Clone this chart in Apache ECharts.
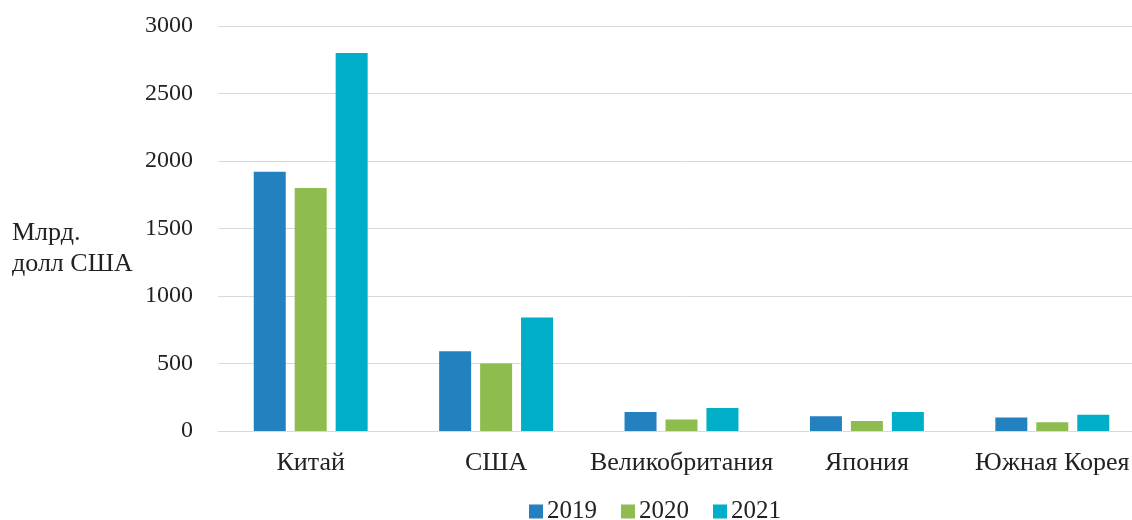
<!DOCTYPE html>
<html>
<head>
<meta charset="utf-8">
<script src="https://cdn.jsdelivr.net/npm/echarts@6/dist/echarts.min.js"></script>
<style>
  html, body { margin: 0; padding: 0; background: #fff; overflow: hidden; }
  #chart { width: 1145px; height: 520px; }
</style>
</head>
<body>
<div id="chart"></div>
<script>
// страны
const countries = ['Китай', 'США', 'Великобритания', 'Япония', 'Южная Корея'];
const years = ['2019', '2020', '2021'];
// млрд. долл США
const values2019 = [1920, 590, 140, 110, 100];
const values2020 = [1800, 500, 85, 75, 65];
const values2021 = [2800, 840, 170, 140, 120];
const yTicks = [0, 500, 1000, 1500, 2000, 2500, 3000];

const colors = ['#2481c0', '#8fbc4f', '#00aec8'];
const font = 'Liberation Serif, Times New Roman, serif';

// график чуть шире окна, правый край обрезан как в оригинале
const myChart = echarts.init(document.getElementById('chart'));

const seriesData = [values2019, values2020, values2021].map((vals, i) => {
  return {
    name: years[i],
    type: 'bar',
    barWidth: 32,
    barGap: '28%',
    itemStyle: { color: colors[i] },
    data: vals
  };
});

const option = {
  animation: false,
  textStyle: { fontFamily: font },
  grid: {
    left: 218,
    top: 26,
    right: 0,
    bottom: 89,
    containLabel: false
  },
  legend: {
    data: years,
    top: 494,
    left: 524,
    itemWidth: 14,
    itemHeight: 14,
    itemGap: 24,
    icon: 'rect',
    textStyle: { fontFamily: font, fontSize: 25, color: '#222', padding: [0, 0, 0, -1] }
  },
  xAxis: {
    type: 'category',
    data: countries,
    axisLine: { lineStyle: { color: '#d9d9d9', width: 1 } },
    axisTick: { show: false },
    axisLabel: { interval: 0, fontFamily: font, fontSize: 26, color: '#222', margin: 19 }
  },
  yAxis: {
    type: 'value',
    min: yTicks[0],
    max: yTicks[yTicks.length - 1],
    interval: 500,
    axisLine: { show: false },
    axisTick: { show: false },
    splitLine: { lineStyle: { color: '#d9d9d9', width: 1 } },
    axisLabel: {
      fontFamily: font, fontSize: 24, color: '#222', margin: 25,
      formatter: v => String(v)
    }
  },
  graphic: [{
    type: 'text',
    left: 12,
    top: 218,
    style: {
      text: 'Млрд.\nдолл США',
      fontFamily: font,
      fontSize: 26,
      lineHeight: 31,
      fill: '#222'
    }
  }],
  series: seriesData
};

myChart.setOption(option);
</script>
</body>
</html>
